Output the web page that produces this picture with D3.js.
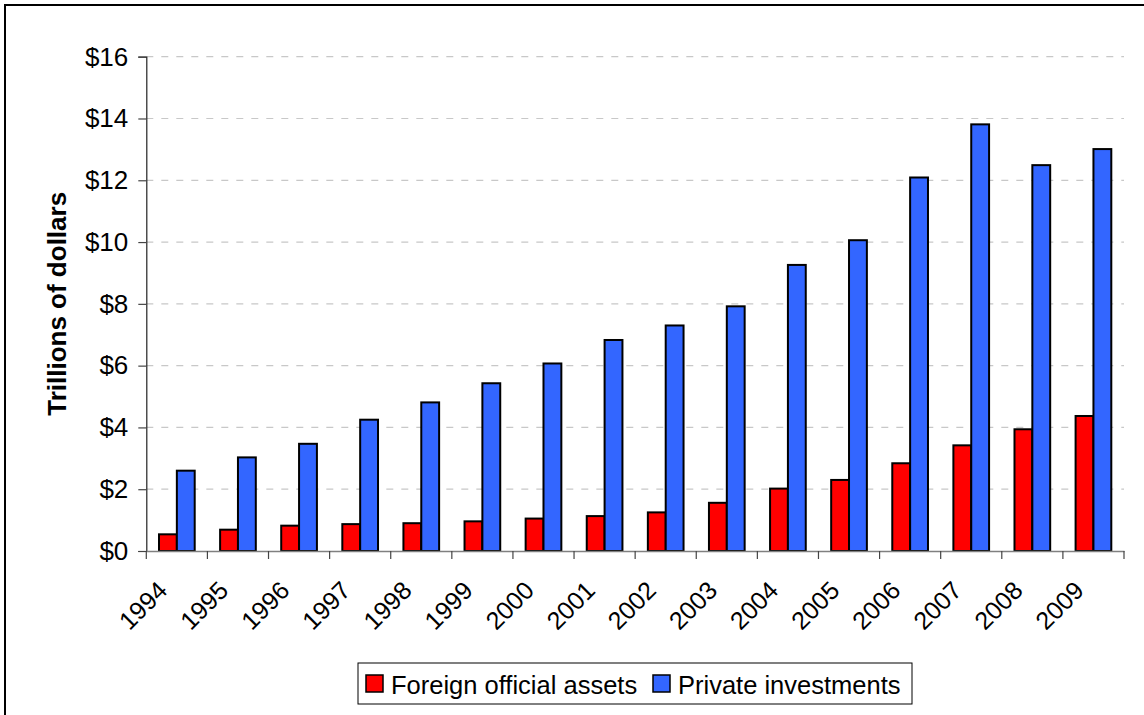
<!DOCTYPE html>
<html>
<head>
<meta charset="utf-8">
<script src="https://cdn.jsdelivr.net/npm/d3@7"></script>
<style>
  body { margin: 0; background: #fff; }
  svg { display: block; font-family: "Liberation Sans", Arial, sans-serif; }
</style>
</head>
<body>
<div id="chart"></div>
<script>
// data (trillions of dollars)
const years = ["1994", "1995", "1996", "1997", "1998", "1999", "2000", "2001",
               "2002", "2003", "2004", "2005", "2006", "2007", "2008", "2009"];
const foreignOfficial = [0.54, 0.69, 0.82, 0.87, 0.90, 0.96, 1.05, 1.13,
                         1.25, 1.56, 2.02, 2.30, 2.84, 3.42, 3.94, 4.37];
const privateInvest = [2.60, 3.03, 3.47, 4.25, 4.81, 5.43, 6.07, 6.83,
                       7.30, 7.92, 9.26, 10.06, 12.09, 13.81, 12.49, 13.01];
const seriesNames = ["Foreign official assets", "Private investments"];
const seriesColors = ["#FF0000", "#3366FF"];
const yTicks = [0, 2, 4, 6, 8, 10, 12, 14, 16];

const width = 1144;
const height = 715;
const margin = { top: 56.7, right: 20, bottom: 164, left: 146.3 };

const rows = years.map((y, i) => ({ year: y, values: [foreignOfficial[i], privateInvest[i]] }));

const svg = d3.select("#chart")
  .append("svg")
  .attr("width", width)
  .attr("height", height);

// outer frame
svg.append("rect")
  .attr("x", 5).attr("y", 5)
  .attr("width", width + 20).attr("height", height + 20)
  .attr("fill", "none")
  .attr("stroke", "#000")
  .attr("stroke-width", 2);

const x0 = d3.scaleBand()
  .domain(years)
  .range([margin.left, 1124]);

const groupW = 35.7;
const x1 = d3.scaleBand()
  .domain([0, 1])
  .range([(x0.bandwidth() - groupW) / 2, (x0.bandwidth() + groupW) / 2]);

const y = d3.scaleLinear()
  .domain([0, 16])
  .range([height - margin.bottom, margin.top]);

// grid
svg.append("g")
  .selectAll("line")
  .data(yTicks.filter(d => d > 0))
  .join("line")
    .attr("x1", margin.left).attr("x2", 1124)
    .attr("y1", d => y(d)).attr("y2", d => y(d))
    .attr("stroke", "#c8c8c8")
    .attr("stroke-width", 1.2)
    .attr("stroke-dasharray", "7,8");

// bars
svg.append("g")
  .selectAll("g")
  .data(rows)
  .join("g")
    .attr("transform", d => `translate(${x0(d.year)},0)`)
  .selectAll("rect")
  .data(d => d.values.map((v, i) => ({ v, i })))
  .join("rect")
    .attr("x", d => x1(d.i))
    .attr("y", d => y(d.v))
    .attr("width", x1.bandwidth())
    .attr("height", d => y(0) - y(d.v))
    .attr("fill", d => seriesColors[d.i])
    .attr("stroke", "#000")
    .attr("stroke-width", 2);

// y axis
const yAxis = svg.append("g")
  .attr("transform", `translate(${margin.left},0)`)
  .call(d3.axisLeft(y).tickValues(yTicks).tickSize(8).tickPadding(10).tickFormat(d => "$" + d));
yAxis.select(".domain").attr("stroke", "#222").attr("stroke-width", 1.2);
yAxis.selectAll(".tick line").attr("stroke", "#444").attr("stroke-width", 1.2);
yAxis.selectAll("text").attr("font-size", 26).attr("fill", "#000")
  .attr("font-family", "Liberation Sans, Arial, sans-serif");

// x axis
const xAxis = svg.append("g")
  .attr("transform", `translate(0,${y(0)})`)
  .call(d3.axisBottom(x0).tickSize(0).tickFormat(""));
xAxis.select(".domain").attr("stroke", "#808080").attr("stroke-width", 1.5);

// x tick marks at band edges
svg.append("g")
  .selectAll("line")
  .data(years.concat(["end"]))
  .join("line")
    .attr("x1", (d, i) => i < years.length ? x0(d) : x0(years[years.length - 1]) + x0.bandwidth())
    .attr("x2", (d, i) => i < years.length ? x0(d) : x0(years[years.length - 1]) + x0.bandwidth())
    .attr("y1", y(0)).attr("y2", y(0) + 8)
    .attr("stroke", "#444")
    .attr("stroke-width", 1.2);

// year labels
svg.append("g")
  .selectAll("text")
  .data(years)
  .join("text")
    .attr("transform", d => `translate(${x0(d) + x0.bandwidth() / 2 - 8},${y(0) + 41}) rotate(-45)`)
    .attr("text-anchor", "end")
    .attr("font-size", 25)
    .text(d => d);

// y label
svg.append("text")
  .attr("transform", `translate(66,${(y(0) + y(16)) / 2}) rotate(-90)`)
  .attr("text-anchor", "middle")
  .attr("font-size", 26)
  .attr("font-weight", "bold")
  .text("Trillions of dollars");

// legend
const legend = svg.append("g");
legend.append("rect")
  .attr("x", 358).attr("y", 663)
  .attr("width", 554).attr("height", 41)
  .attr("fill", "#fff")
  .attr("stroke", "#000")
  .attr("stroke-width", 1);

const legX = [366, 653];
seriesNames.forEach((name, i) => {
  legend.append("rect")
    .attr("x", legX[i]).attr("y", 675)
    .attr("width", 17).attr("height", 17)
    .attr("fill", seriesColors[i])
    .attr("stroke", "#000")
    .attr("stroke-width", 1.5);
  legend.append("text")
    .attr("x", legX[i] + 25).attr("y", 694)
    .attr("font-size", 25.5)
    .text(name);
});
</script>
</body>
</html>
